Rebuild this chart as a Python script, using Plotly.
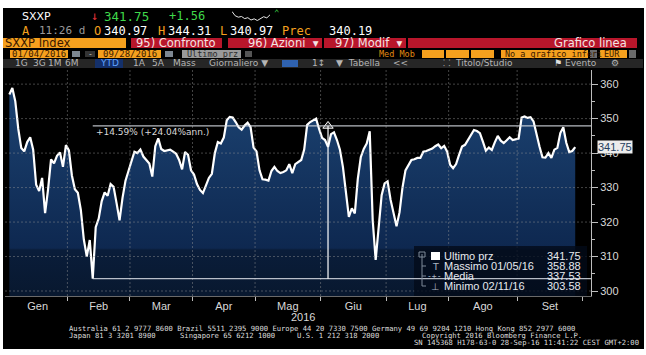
import numpy as np
import pandas as pd
import plotly.graph_objects as go

W, H = 646, 355

# ---------------- data ----------------
holidays = ["2016-03-25", "2016-03-28"]
month_names = ["Gen", "Feb", "Mar", "Apr", "Mag", "Giu", "Lug", "Ago", "Set"]

jan = [357.0, 358.88, 355.0, 347.0, 341.5, 340.5, 343.2, 344.6, 341.0, 330.8,
       329.0, 332.8, 322.6, 329.5, 338.2, 337.0, 339.2, 340.2, 336.0, 342.3]
feb = [340.8, 333.5, 329.5, 328.5, 323.5, 315.0, 310.0, 314.8, 303.58, 318.5,
       321.0, 326.0, 328.6, 327.6, 331.0, 330.2, 325.5, 320.5, 327.0, 332.0, 334.8]
mar = [338.0, 340.4, 340.0, 341.0, 339.0, 338.0, 337.0, 333.2, 342.0, 344.3,
       341.2, 340.6, 340.8, 341.0, 340.4, 339.8, 338.0, 335.3, 340.3, 339.5, 335.0]
apr = [333.8, 331.0, 329.3, 328.4, 330.6, 332.8, 334.0, 340.0, 343.2, 342.8,
       344.5, 349.5, 350.5, 350.3, 349.0, 347.5, 346.8, 348.0, 348.8, 347.5, 341.6]
may = [340.5, 335.0, 332.4, 332.3, 332.0, 334.8, 336.0, 334.8, 334.2, 334.5,
       335.0, 336.8, 334.2, 336.8, 337.5, 338.0, 341.0, 348.2, 349.0, 349.5, 350.0, 347.0]
jun = [344.4, 343.8, 341.8, 345.5, 346.0, 343.8, 341.0, 336.0, 328.5, 321.5,
       324.0, 322.5, 332.5, 338.8, 341.2, 342.8, 346.3, 320.6, 309.0, 319.5, 327.8, 331.2]
jul = [331.8, 326.5, 322.2, 318.8, 322.8, 330.0, 335.0, 336.5, 338.0, 338.2,
       338.6, 338.6, 340.4, 340.6, 340.9, 341.3, 342.0, 342.5, 341.4, 342.1, 340.4]
aug = [336.6, 335.6, 336.8, 339.5, 341.9, 342.4, 343.8, 345.0, 346.7, 346.4,
       345.8, 343.3, 340.7, 341.6, 340.9, 343.1, 345.0, 343.6, 342.9, 343.7, 344.6, 343.8, 344.0]
sep = [344.2, 350.3, 350.6, 350.2, 350.4, 349.2, 345.3, 341.9, 338.8, 338.7,
       340.0, 338.6, 341.0, 341.5, 345.8, 347.5, 343.0, 340.3, 340.6, 341.75]

prices = jan + feb + mar + apr + may + jun + jul + aug + sep

y_ticks = [300, 310, 320, 330, 340, 350, 360]
y_minor = [305, 315, 325, 335, 345, 355]

pct_change = 14.59
pct_ann = 24.04
measure_end = 107          # trading-day index where the measure tool ends

legend_labels = ["Ultimo prz", "Massimo 01/05/16", "Media", "Minimo 02/11/16"]
legend_values = ["341.75", "358.88", "337.53", "303.58"]
last_price = 341.75

spark = [6.0, 4.2, 3.6, 3.9, 3.0, 3.4, 2.4, 2.9, 2.2, 3.1, 3.8, 3.3, 4.6]

# ---------------- derived ----------------
days = pd.bdate_range("2016-01-04", "2016-10-31")
days = days[~days.isin(pd.to_datetime(holidays))]
N = len(prices)
xi = np.arange(N)
bounds = [-0.5] + [k - 0.5 for k in range(1, len(days)) if days[k].month != days[k - 1].month]
bounds = bounds[:10]
mids = [(bounds[k] + bounds[k + 1]) / 2 for k in range(9)]

x_lo, x_hi = -1.46, 195.3
y_lo, y_hi = 298.55, 364.1

pmin = min(prices)
imin = prices.index(pmin)
ptop = pmin * (1 + pct_change / 100)


def PX(x):
    return x / W


def PY(y):
    return 1 - y / H


shapes = []
annots = []


def rect(x0, y0, x1, y1, color, layer="below", line=None):
    shapes.append(dict(type="rect", xref="paper", yref="paper",
                       x0=PX(x0), x1=PX(x1), y0=PY(y1), y1=PY(y0),
                       fillcolor=color, line=line or dict(width=0), layer=layer))


def txt(x, y, s, color, size, family="DejaVu Sans", anchor="left"):
    annots.append(dict(xref="paper", yref="paper", x=PX(x), y=PY(y), text=s,
                       showarrow=False, xanchor=anchor, yanchor="middle", borderpad=0,
                       font=dict(color=color, size=size, family=family)))


MONO = "DejaVu Sans Mono"
ARIAL = "Liberation Sans"
ORANGE = "#f5a01e"
RED = "#b8162b"

# black terminal background
rect(3, 8, 644, 349, "#000000")

# ---- row 1 ----
txt(21, 16, "SXXP", "#ffffff", 11)
txt(90, 16, "↓", "#e8333a", 12, MONO)
txt(103, 16, "341.75", "#3fd84a", 12.5, MONO)
txt(168, 16, "+1.56", "#3fd84a", 12, MONO)
txt(273, 13, "⌃", "#3fd84a", 9, MONO)

# ---- row 2 ----
txt(21, 31, "A", ORANGE, 12, MONO)
txt(38, 31, "11:26 d", "#9a9a9a", 11, MONO)
txt(93, 31, "O", ORANGE, 12, MONO)
txt(103, 31, "340.97", "#ffffff", 12, MONO)
txt(157, 31, "H", ORANGE, 12, MONO)
txt(167, 31, "344.31", "#ffffff", 12, MONO)
txt(219, 31, "L", ORANGE, 12, MONO)
txt(229, 31, "340.97", "#ffffff", 12, MONO)
txt(281, 31, "Prec", ORANGE, 12, MONO)
txt(328, 31, "340.19", "#ffffff", 12, MONO)

# ---- row 3 ----
rect(3, 38, 126, 48, ORANGE)
txt(4, 43, "SXXP Index", "#3a1800", 11.5)
rect(131, 38, 222, 48, RED)
txt(176, 43, "95) Confronto", "#f4e4e4", 11.5, anchor="center")
rect(228, 38, 322, 48, RED)
txt(247, 43, "96) Azioni  ▾", "#f4e4e4", 11.5)
rect(324, 38, 406, 48, RED)
txt(334, 43, "97) Modif  ▾", "#f4e4e4", 11.5)
rect(408, 38, 637, 48, RED)
txt(628, 43, "Grafico linea", "#f4e4e4", 11.5, anchor="right")

# ---- row 4 ----
rect(10, 50, 68, 58, ORANGE)
txt(39, 54, "01/04/2016", "#3a1800", 9, MONO, "center")
rect(72, 51, 80, 57, "#7d8792")
rect(85, 51, 95, 57, "#333333")
txt(90, 54, "-", "#bbbbbb", 8, MONO, "center")
rect(98, 50, 161, 58, ORANGE)
txt(129.5, 54, "09/28/2016", "#3a1800", 9, MONO, "center")
rect(165, 51, 173, 57, "#7d8792")
rect(182, 50, 241, 58, "#9a9a9a")
txt(186, 54, "Ultimo prz", "#2a2a2a", 8.5, MONO)
rect(245, 51, 252, 57, "#555555")
txt(378, 54, "Med Mob", "#e08a10", 8.5, MONO)
rect(422, 50, 444, 58, ORANGE)
rect(446, 50, 469, 58, ORANGE)
rect(471, 50, 494, 58, ORANGE)
rect(501, 50, 588, 58, ORANGE)
txt(504, 54, "No a grafico inferi", "#3a1800", 8.5, MONO)
rect(590, 50, 597, 58, "#6a6a6a")
rect(600, 50, 627, 58, ORANGE)
txt(603, 54, "EUR", "#3a1800", 8.5, MONO)
rect(629, 50, 636, 58, "#6a6a6a")

# ---- row 5 ----
rect(3, 59, 643, 68, "#262626")
rect(95, 59, 123, 68, "#14306a")
rect(282, 60, 298, 67, "#2f62b0")
for lab, cx, col in [("1G", 21, "#b5b5b5"), ("3G", 39, "#b5b5b5"), ("1M", 55, "#b5b5b5"),
                     ("6M", 72, "#b5b5b5"), ("YTD", 109, "#5fa2ff"), ("1A", 139, "#b5b5b5"),
                     ("5A", 158, "#b5b5b5"), ("Mass", 185, "#b5b5b5"),
                     ("Giornaliero ▼", 238, "#b5b5b5"), ("1↕", 318, "#b5b5b5"),
                     ("▼  Tabella", 358, "#b5b5b5"),
                     ("<<", 401, "#b5b5b5"), ("⸬", 446, "#b5b5b5"),
                     ("Titolo/Studio", 484, "#b5b5b5"), ("⚑", 558, "#e0e0e0"),
                     ("Evento", 581, "#b5b5b5"), ("⚙", 615, "#b5b5b5")]:
    txt(cx, 63.5, lab, col, 9, anchor="center")

# ---- axis labels extra ----
txt(303, 317, "2016", "#d8d8d8", 11, ARIAL, "center")

# ---- footer ----
FOOT = "#dedede"
FS = 7.2
txt(68, 328, "Australia 61 2 9777 8600 Brazil 5511 2395 9000 Europe 44 20 7330 7500 Germany 49 69 9204 1210 Hong Kong 852 2977 6000", FOOT, FS, MONO)
txt(68, 335, "Japan 81 3 3201 8900", FOOT, FS, MONO)
txt(179, 335, "Singapore 65 6212 1000", FOOT, FS, MONO)
txt(296, 335, "U.S. 1 212 318 2000", FOOT, FS, MONO)
txt(421, 335, "Copyright 2016 Bloomberg Finance L.P.", FOOT, FS, MONO)
txt(640, 342, "SN 145368 H178-63-0 28-Sep-16 11:41:22 CEST GMT+2:00", FOOT, FS, MONO, "right")

# ---- grid (dotted, above fill) ----
GRID = "rgba(150,150,150,0.45)"
for v in y_ticks:
    shapes.append(dict(type="line", xref="x domain", yref="y", x0=0, x1=1, y0=v, y1=v,
                       line=dict(color=GRID, width=1, dash="2px,2px"), layer="above"))
for b in bounds[1:9]:
    shapes.append(dict(type="line", xref="x", yref="y domain", x0=b, x1=b, y0=0, y1=1,
                       line=dict(color=GRID, width=1, dash="2px,2px"), layer="above"))

# ---- legend box ----
rect(414, 246, 587, 296, "rgba(3,10,24,0.78)", layer="above")

# ---- measurement tool ----
MEAS = "rgba(215,220,228,0.85)"
shapes.append(dict(type="line", xref="x", yref="y", x0=imin, x1=x_hi, y0=pmin, y1=pmin,
                   line=dict(color=MEAS, width=1.2), layer="above"))
shapes.append(dict(type="line", xref="x", yref="y", x0=imin, x1=x_hi, y0=ptop, y1=ptop,
                   line=dict(color=MEAS, width=1.2), layer="above"))
shapes.append(dict(type="line", xref="x", yref="y", x0=measure_end, x1=measure_end, y0=pmin, y1=ptop,
                   line=dict(color="#ffffff", width=1.2), layer="above"))
annots.append(dict(xref="x", yref="y", x=imin + 0.5, y=ptop, yshift=-6,
                   text=f"+{pct_change:.2f}% (+{pct_ann:.2f}%ann.)",
                   showarrow=False, xanchor="left", yanchor="middle",
                   font=dict(color="#d8d8d8", size=9, family="DejaVu Sans")))

# ---- legend content ----
LEGC = "#e6e9ee"
shapes.append(dict(type="line", xref="paper", yref="paper", x0=PX(422), x1=PX(422), y0=PY(286), y1=PY(254),
                   line=dict(color="#7f8a99", width=1), layer="above"))
for yy in (266, 276, 286):
    shapes.append(dict(type="line", xref="paper", yref="paper", x0=PX(422), x1=PX(426), y0=PY(yy), y1=PY(yy),
                       line=dict(color="#7f8a99", width=1), layer="above"))
rect(419, 252, 425, 257, "rgba(0,0,0,0)", layer="above", line=dict(color="#7f8a99", width=1))
rect(431, 252, 440, 260, "#ffffff", layer="above")
txt(435, 266, "T", "#aab4c2", 9.5, anchor="center")
txt(434, 276, "-+-", "#aab4c2", 8, MONO, "center")
txt(435, 286, "⊥", "#aab4c2", 9.5, anchor="center")
for k, (lab, val) in enumerate(zip(legend_labels, legend_values)):
    yy = 256 + 10 * k
    txt(443, yy, lab, LEGC, 11, ARIAL)
    txt(582, yy, val, LEGC, 11, ARIAL, "right")

# ---- last price tag ----
annots.append(dict(xref="paper", yref="y", x=PX(597), y=last_price, text=f"{last_price:.2f}",
                   showarrow=False, xanchor="left", yanchor="middle", bgcolor="#ececec",
                   borderpad=0, font=dict(color="#24405f", size=11, family=ARIAL)))

fig = go.Figure()
fig.add_trace(go.Scatter(
    x=xi, y=prices, mode="lines",
    line=dict(color="#ffffff", width=2.2),
    fill="tozeroy",
    fillgradient=dict(type="vertical", start=y_lo, stop=352,
                      colorscale=[[0, "#08182f"], [0.25, "#0a1d3a"], [0.26, "#0e2850"], [1, "#1a3f6d"]]),
    hoverinfo="skip", showlegend=False))
fig.add_trace(go.Scatter(
    x=[measure_end], y=[ptop], mode="markers",
    marker=dict(symbol="triangle-up", size=9, color="#2a2a2a", line=dict(color="#ffffff", width=1)),
    hoverinfo="skip", showlegend=False))
fig.add_trace(go.Scatter(
    x=list(range(len(spark))), y=spark, mode="lines", xaxis="x2", yaxis="y2",
    line=dict(color="#e8e8e8", width=1), hoverinfo="skip", showlegend=False))

AXC = "#bdbdbd"
fig.update_layout(
    width=W, height=H, margin=dict(l=0, r=0, t=0, b=0),
    paper_bgcolor="#ffffff", plot_bgcolor="#060606", showlegend=False,
    xaxis=dict(domain=[PX(5), PX(591)], range=[x_lo, x_hi], tickmode="array",
               tickvals=mids, ticktext=month_names, ticks="", showgrid=False, zeroline=False,
               showline=True, linecolor="#6a6a6a", fixedrange=True,
               tickfont=dict(family=ARIAL, size=11, color="#d8d8d8"),
               minor=dict(tickmode="array", tickvals=bounds[1:10], ticks="outside", ticklen=4,
                          tickcolor=AXC, showgrid=False)),
    yaxis=dict(domain=[PY(296), PY(70)], range=[y_lo, y_hi], side="right", tickmode="array",
               tickvals=y_ticks, ticks="outside", ticklen=6, tickcolor=AXC, showgrid=False,
               zeroline=False, showline=True, linecolor=AXC, fixedrange=True,
               tickfont=dict(family=ARIAL, size=11, color="#d8d8d8"),
               minor=dict(tickmode="array", tickvals=y_minor, ticks="outside", ticklen=3, tickcolor=AXC)),
    xaxis2=dict(domain=[PX(232), PX(270)], visible=False, anchor="y2", fixedrange=True),
    yaxis2=dict(domain=[PY(21), PY(11)], visible=False, anchor="x2", fixedrange=True),
    shapes=shapes, annotations=annots,
)

fig.write_html("out.html")
